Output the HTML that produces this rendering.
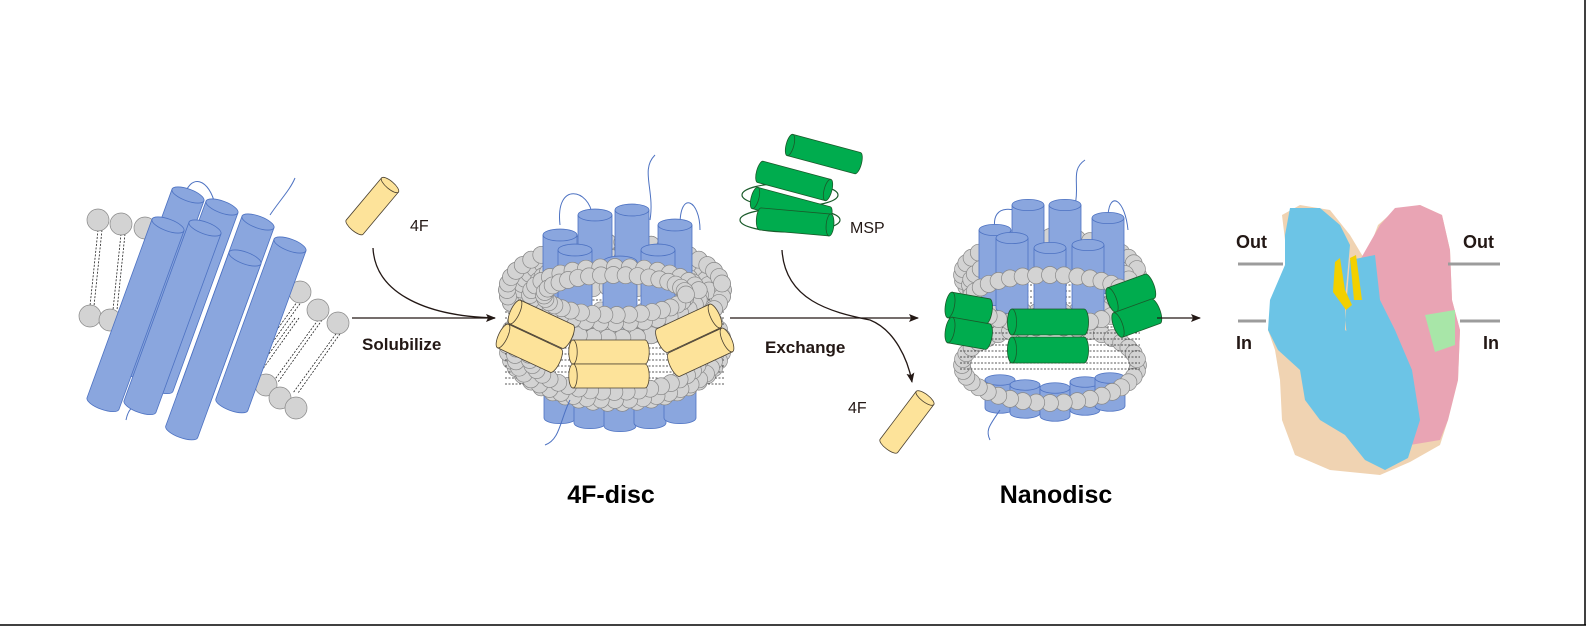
<!DOCTYPE html>
<html><head><meta charset="utf-8">
<style>
html,body{margin:0;padding:0;background:#fff;}
body{width:1587px;height:634px;overflow:hidden;position:relative;}
svg{position:absolute;left:0;top:0;}
text{font-family:"Liberation Sans",Arial,sans-serif;}
</style></head>
<body>
<svg id="s" width="1587" height="634" viewBox="0 0 1587 634" xmlns="http://www.w3.org/2000/svg">
<defs>
<marker id="ah" markerWidth="10" markerHeight="8" refX="9" refY="4" orient="auto" markerUnits="userSpaceOnUse">
<path d="M0,0 L10,4 L0,8 L2,4 Z" fill="#231815"/>
</marker>
</defs>
<line x1="0" y1="625" x2="1586" y2="625" stroke="#000" stroke-width="1.5"/>
<line x1="1585" y1="0" x2="1585" y2="625" stroke="#000" stroke-width="1.5"/>

<g id="g"></g>

<line x1="352" y1="318" x2="495" y2="318" stroke="#231815" stroke-width="1.3" marker-end="url(#ah)"/>
<path d="M373,248 C375,290 420,316 495,318" fill="none" stroke="#231815" stroke-width="1.3"/>
<line x1="730" y1="318" x2="918" y2="318" stroke="#231815" stroke-width="1.3" marker-end="url(#ah)"/>
<path d="M782,250 C785,300 830,312 870,320 C895,330 908,360 912,382" fill="none" stroke="#231815" stroke-width="1.3" marker-end="url(#ah)"/>
<line x1="1157" y1="318" x2="1200" y2="318" stroke="#231815" stroke-width="1.3" marker-end="url(#ah)"/>

<text x="362" y="350" font-size="17" font-weight="bold" fill="#231815">Solubilize</text>
<text x="765" y="353" font-size="17" font-weight="bold" fill="#231815">Exchange</text>
<text x="410" y="231" font-size="16" fill="#231815">4F</text>
<text x="848" y="413" font-size="16" fill="#231815">4F</text>
<text x="850" y="233" font-size="16" fill="#231815">MSP</text>
<text x="611" y="503" font-size="25" font-weight="bold" fill="#000" text-anchor="middle">4F-disc</text>
<text x="1056" y="503" font-size="25" font-weight="bold" fill="#000" text-anchor="middle">Nanodisc</text>

<!-- density map -->
<g>
<path d="M1282,215 L1300,205 L1330,210 L1350,235 L1365,260 L1378,225 L1395,210 L1420,205 L1442,215 L1450,250 L1452,300 L1460,330 L1458,380 L1448,420 L1440,445 L1410,462 L1380,475 L1330,470 L1295,455 L1282,420 L1280,380 L1275,350 L1268,330 L1272,300 L1285,270 L1285,240 Z" fill="#f0d3b2"/>
<path d="M1290,208 L1320,208 L1340,225 L1350,245 L1345,300 L1345,330 L1365,345 L1385,380 L1400,420 L1405,455 L1385,470 L1365,460 L1345,435 L1320,420 L1305,400 L1300,370 L1278,350 L1268,330 L1270,300 L1285,265 L1285,235 Z" fill="#6cc4e6"/>
<path d="M1380,225 L1395,208 L1420,205 L1442,215 L1450,250 L1452,300 L1460,330 L1458,380 L1448,420 L1440,440 L1410,445 L1400,400 L1385,380 L1372,350 L1372,300 L1360,260 Z" fill="#e9a4b4"/>
<path d="M1350,260 L1375,255 L1380,300 L1395,330 L1412,370 L1420,420 L1408,458 L1385,470 L1370,440 L1360,400 L1350,360 L1345,320 Z" fill="#6cc4e6"/>
<path d="M1425,315 L1455,310 L1455,345 L1435,352 Z" fill="#a8e6a8"/>
<path d="M1335,262 L1340,258 L1345,290 L1352,305 L1346,310 L1333,292 Z M1350,258 L1356,255 L1362,300 L1354,300 Z" fill="#f2d000"/>
</g>
<line x1="1238" y1="264" x2="1283" y2="264" stroke="#9c9c9c" stroke-width="3"/>
<line x1="1448" y1="264" x2="1500" y2="264" stroke="#9c9c9c" stroke-width="3"/>
<line x1="1238" y1="321" x2="1266" y2="321" stroke="#9c9c9c" stroke-width="3"/>
<line x1="1460" y1="321" x2="1500" y2="321" stroke="#9c9c9c" stroke-width="3"/>
<text x="1236" y="248" font-size="18" font-weight="bold" fill="#231815">Out</text>
<text x="1463" y="248" font-size="18" font-weight="bold" fill="#231815">Out</text>
<text x="1236" y="349" font-size="18" font-weight="bold" fill="#231815">In</text>
<text x="1483" y="349" font-size="18" font-weight="bold" fill="#231815">In</text>
</svg>
<script>
var g=document.getElementById('g'),h='';
var B='#8aa6de',BS='#4d72c2',Y='#fde39a',YS='#4a4030',G='#00ac4e',GS='#1a5a2a',C='#d3d3d3',CS='#888';
function cyl(x,y,len,r,ang,f,s){
 h+='<g transform="translate('+x+','+y+') rotate('+ang+')"><path d="M'+(-r)+',0 L'+(-r)+','+len+' A'+r+','+(r*0.35)+' 0 0 0 '+r+','+len+' L'+r+',0 Z" fill="'+f+'" stroke="'+s+'" stroke-width="0.8"/><ellipse cx="0" cy="0" rx="'+r+'" ry="'+(r*0.35)+'" fill="'+f+'" stroke="'+s+'" stroke-width="0.8"/></g>';}
function ball(x,y,r){h+='<circle cx="'+x+'" cy="'+y+'" r="'+(r||9)+'" fill="'+C+'" stroke="'+CS+'" stroke-width="0.7"/>';}
function tail(x1,y1,x2,y2){h+='<line x1="'+x1+'" y1="'+y1+'" x2="'+x2+'" y2="'+y2+'" stroke="#222" stroke-width="0.8" stroke-dasharray="2,1.5"/>';}
function wire(d){h+='<path d="'+d+'" fill="none" stroke="'+BS+'" stroke-width="1"/>';}
[[98,220],[121,224],[145,228]].forEach(function(p){tail(p[0],p[1]+10,p[0]-8,p[1]+86);tail(p[0]+4,p[1]+10,p[0]-4,p[1]+86);});
[[98,220],[121,224],[145,228]].forEach(function(p){ball(p[0],p[1],11)});
[[90,316],[110,320],[132,322]].forEach(function(p){ball(p[0],p[1],11)});
[[295,310],[318,312],[338,323],[300,290]].forEach(function(p){tail(p[0],p[1]+8,p[0]-45,p[1]+70);tail(p[0]+4,p[1]+8,p[0]-40,p[1]+70);});
[[248,372],[266,385],[280,398],[296,408]].forEach(function(p){ball(p[0],p[1],11)});
[[300,292],[318,310],[338,323]].forEach(function(p){ball(p[0],p[1],11)});
wire('M183,200 C190,170 210,180 215,205');wire('M270,215 C280,200 290,190 295,178');wire('M125,385 C110,400 100,390 95,400');wire('M150,395 C140,410 130,400 126,420');
[[188,195,185],[222,207,190],[258,222,190],[290,245,170],[168,225,190],[205,228,190],[245,258,185]].forEach(function(c){cyl(c[0],c[1],c[2],17,20,B,BS)});
cyl(390,185,55,11,40,Y,YS);
function disc(cx,cy,rx,ry,n,rows){for(var k=0;k<rows;k++){for(var i=0;i<n;i++){var a=Math.PI*2*i/n+k*0.15;ball(cx+(rx-k*14)*Math.cos(a),cy+(ry-k*8)*Math.sin(a),8.5);}}}
[[560,390],[590,395],[620,398],[650,395],[680,390]].forEach(function(p){cyl(p[0],p[1],28,16,0,B,BS)});
disc(615,345,108,58,46,1);
disc(615,290,108,48,46,3);
for(var y=300;y<385;y+=6){tail(505,y,725,y);}
disc(615,355,100,45,44,2);
disc(615,290,108,48,46,1);
wire('M560,225 C555,180 590,190 592,215');wire('M650,220 C655,190 640,170 655,155');wire('M680,225 C680,190 700,200 700,230');wire('M570,400 C560,420 560,440 545,445');
[[560,235],[595,215],[632,210],[675,225],[575,250],[620,262],[658,250]].forEach(function(p){cyl(p[0],p[1],60,17,0,B,BS)});
disc(615,295,85,28,36,2);
cyl(515,312,58,13,-65,Y,YS);cyl(503,336,58,13,-65,Y,YS);
cyl(573,352,72,12,-90,Y,YS);cyl(573,376,72,12,-90,Y,YS);
cyl(715,316,58,13,65,Y,YS);cyl(727,340,58,13,65,Y,YS);
h+='<ellipse cx="790" cy="195" rx="48" ry="12" fill="none" stroke="'+GS+'" stroke-width="1.2"/><ellipse cx="790" cy="220" rx="50" ry="12" fill="none" stroke="'+GS+'" stroke-width="1.2"/>';
cyl(790,145,70,11,-75,G,GS);cyl(828,190,70,11,105,G,GS);cyl(755,198,75,11,-75,G,GS);cyl(830,225,70,11,95,G,GS);
cyl(925,398,60,11,37,Y,YS);
[[1000,380],[1025,385],[1055,388],[1085,382],[1110,378]].forEach(function(p){cyl(p[0],p[1],28,15,0,B,BS)});
disc(1050,365,88,38,40,1);
for(var y2=285;y2<372;y2+=6){tail(960,y2,1140,y2);}
disc(1050,275,88,38,40,1);
disc(1050,285,80,32,36,1);
wire('M995,230 C990,200 1020,210 1025,215');wire('M1075,205 C1080,185 1070,170 1085,160');wire('M1108,215 C1110,190 1125,200 1128,230');wire('M1000,410 C990,425 985,430 990,440');
[[995,230],[1028,205],[1065,205],[1108,218],[1012,238],[1050,248],[1088,245]].forEach(function(p){cyl(p[0],p[1],70,16,0,B,BS)});
disc(1050,300,80,25,36,1);
cyl(950,305,38,13,-80,G,GS);cyl(950,330,38,13,-80,G,GS);
cyl(1012,322,72,13,-90,G,GS);cyl(1012,350,72,13,-90,G,GS);
cyl(1112,300,40,13,-110,G,GS);cyl(1118,325,40,13,-110,G,GS);
g.innerHTML=h;
</script>
</body></html>
